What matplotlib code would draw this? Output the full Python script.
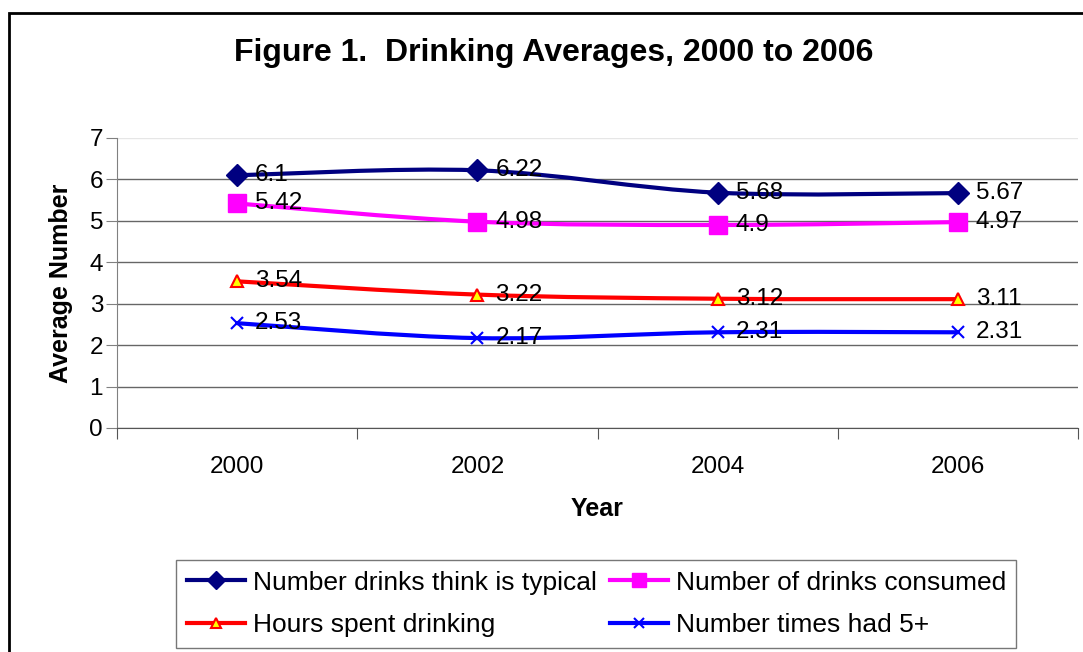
import numpy as np
import matplotlib
matplotlib.use('Agg')
from matplotlib import pyplot as plt
from matplotlib.path import Path
from matplotlib.patches import PathPatch, Rectangle
from matplotlib.lines import Line2D

years = ['2000', '2002', '2004', '2006']
typical = [6.1, 6.22, 5.68, 5.67]
consumed = [5.42, 4.98, 4.9, 4.97]
hours = [3.54, 3.22, 3.12, 3.11]
times5 = [2.53, 2.17, 2.31, 2.31]

plt.rcParams['font.family'] = ['Liberation Sans', 'DejaVu Sans']


def smooth_path(xs, ys):
    # Excel-like smoothed line as cubic bezier segments through the points
    pts = np.column_stack([xs, ys]).astype(float)
    padded = np.vstack([pts[0], pts, pts[-1]])
    verts = [pts[0]]
    codes = [Path.MOVETO]
    for i in range(len(pts) - 1):
        p0, p1, p2, p3 = padded[i], padded[i + 1], padded[i + 2], padded[i + 3]
        verts += [p1 + (p2 - p0) / 6, p2 - (p3 - p1) / 6, p2]
        codes += [Path.CURVE4] * 3
    return Path(verts, codes)


fig = plt.figure(figsize=(10.83, 6.52), dpi=100)
ax = fig.add_axes([117 / 1083, 1 - 428 / 652, (1078 - 117) / 1083, (428 - 138) / 652])

x = np.arange(len(years))
series = [
    ('Number drinks think is typical', typical, dict(color='#000080', marker='D', ms=11, mfc='#000080', mec='#000080')),
    ('Number of drinks consumed', consumed, dict(color='#FF00FF', marker='s', ms=13, mfc='#FF00FF', mec='#FF00FF')),
    ('Hours spent drinking', hours, dict(color='#FF0000', marker='^', ms=9, mfc='#FFFF00', mec='#FF0000', mew=1.5)),
    ('Number times had 5+', times5, dict(color='#0000FF', marker='x', ms=9, mfc='#0000FF', mec='#0000FF', mew=1.5)),
]

handles = []
for name, vals, st in series:
    ax.add_patch(PathPatch(smooth_path(x, vals), fill=False, edgecolor=st['color'],
                           lw=3, zorder=3, capstyle='round', joinstyle='round'))
    ax.plot(x, vals, linestyle='none', marker=st['marker'], ms=st['ms'], mfc=st['mfc'],
            mec=st['mec'], mew=st.get('mew', 1), zorder=4)
    for xi, v in zip(x, vals):
        ax.annotate(str(v), (xi, v), xytext=(13, 0), textcoords='offset points',
                    ha='left', va='center', fontsize=17.5, zorder=5)
    handles.append(Line2D([], [], color=st['color'], lw=3, marker=st['marker'], ms=st['ms'] * 0.8,
                          mfc=st['mfc'], mec=st['mec'], mew=st.get('mew', 1)))

ax.set_xlim(-0.5, 3.5)
ax.set_ylim(0, 7)
ax.set_yticks(range(8))
ax.set_xticks(np.arange(-0.5, 4, 1))
ax.set_xticklabels([])
ax.set_xticks(x, minor=True)
ax.set_xticklabels(years, minor=True)
ax.tick_params(axis='x', which='minor', length=0, pad=20, labelsize=17.5)
ax.tick_params(axis='x', which='major', length=8, color='#555555', direction='out')
ax.tick_params(axis='y', length=8, color='#808080', labelsize=17.5, pad=2)

ax.yaxis.grid(True, color='#666666', lw=1)
ax.get_ygridlines()[-1].set_color('#e6e6e6')
ax.set_axisbelow(True)
for s in ['top', 'right']:
    ax.spines[s].set_visible(False)
ax.spines['left'].set_color('#808080')
ax.spines['bottom'].set_color('#555555')

ax.set_xlabel('Year', fontsize=18, fontweight='bold', labelpad=14)
ax.set_ylabel('Average Number', fontsize=18, fontweight='bold', labelpad=12)

fig.text(0.511, 1 - 53 / 652, 'Figure 1.  Drinking Averages, 2000 to 2006',
         ha='center', va='center', fontsize=23, fontweight='bold')

order = [0, 2, 1, 3]
leg = fig.legend([handles[i] for i in order], [series[i][0] for i in order],
                 loc='upper left', bbox_to_anchor=(176 / 1083, 1 - 560 / 652), ncol=2,
                 fontsize=19, frameon=True, fancybox=False, borderaxespad=0,
                 handlelength=2.2, handletextpad=0.3, columnspacing=0.5,
                 labelspacing=0.7, borderpad=0.4)
leg.get_frame().set_edgecolor('#555555')
leg.get_frame().set_linewidth(1)

fig.patches.append(Rectangle((8.5 / 1083, -0.1), 1.2, 1 - 12.5 / 652 + 0.1,
                             transform=fig.transFigure, fill=False, edgecolor='black',
                             lw=2, clip_on=False))

fig.savefig('out.png', dpi=100)
